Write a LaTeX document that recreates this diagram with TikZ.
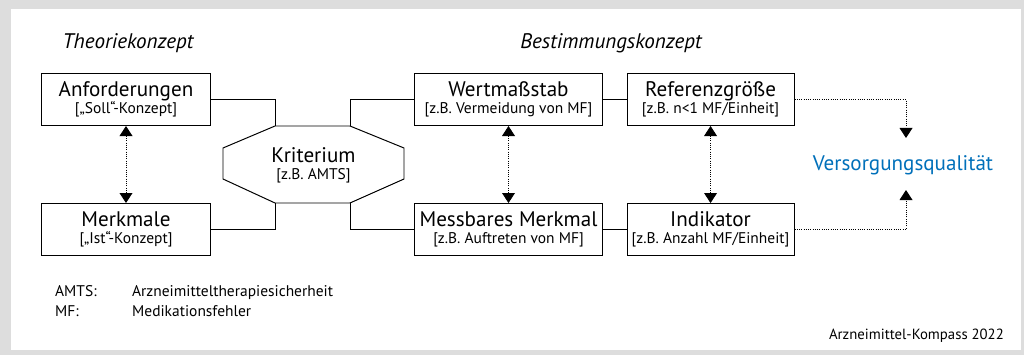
\documentclass[tikz,border=0pt]{standalone}
\usepackage{fontspec}
\setmainfont{PT Sans}
\usetikzlibrary{arrows.meta, positioning}

\definecolor{vqblue}{RGB}{0,112,186}
\definecolor{framegray}{RGB}{221,221,221}
\newcommand{\headtxt}{\fontsize{15}{13}\selectfont}
\newcommand{\subtxt}{\fontsize{11}{13}\selectfont}

\begin{document}
\begin{tikzpicture}[x=0.025cm, y=-0.025cm, line width=0.7pt,
    box/.style={draw, inner sep=0pt, minimum height=1.3cm, align=center},
    title/.style={font=\fontsize{15}{18}\selectfont\itshape},
    legend/.style={anchor=base west, font=\fontsize{11}{13}\selectfont},
    dots/.style={line width=0.6pt, densely dotted},
    tip/.style={-{Triangle[length=0.25cm, width=0.32cm]}},
    twoway/.style={dots, {Triangle[length=0.25cm, width=0.32cm]}-{Triangle[length=0.25cm, width=0.32cm]}}]

    % Frame
    \fill[framegray] (0,0) rectangle (1024,355);
    \fill[white] (11,9) rectangle (1021,350);

    %Nodes
    \node[title] (theo) at (128,43) {Theoriekonzept};
    \node[title] (best) at (611,43) {Bestimmungskonzept};

    \node[box, minimum width=4.2cm] (anf) at (126,99.5) {{\headtxt Anforderungen}\\{\subtxt [„Soll“-Konzept]}};
    \node[box, minimum width=4.2cm] (merk) [below=1.925cm of anf] {{\headtxt Merkmale}\\{\subtxt [„Ist“-Konzept]}};

    \node[box, minimum width=4.675cm] (wert) at (508.5,99.5) {{\headtxt Wertmaßstab}\\{\subtxt [z.B. Vermeidung von MF]}};
    \node[box, minimum width=4.175cm] (ref) [right=0.6cm of wert] {{\headtxt Referenzgröße}\\{\subtxt [z.B. n<1 MF/Einheit]}};
    \node[box, minimum width=4.675cm] (mess) [below=1.925cm of wert] {{\headtxt Messbares Merkmal}\\{\subtxt [z.B. Auftreten von MF]}};
    \node[box, minimum width=4.175cm] (ind) [right=0.6cm of mess] {{\headtxt Indikator}\\{\subtxt [z.B. Anzahl MF/Einheit]}};

    % Kriterium octagon
    \coordinate (k1) at (275,126);
    \coordinate (k2) at (350,126);
    \coordinate (k3) at (404,148);
    \coordinate (k4) at (404,179);
    \coordinate (k5) at (350,203);
    \coordinate (k6) at (275,203);
    \coordinate (k7) at (223,179);
    \coordinate (k8) at (223,148);
    \draw (k1) -- (k2) -- (k3) -- (k4) -- (k5) -- (k6) -- (k7) -- (k8) -- cycle;
    \node[align=center] (krit) at (313.5,165) {{\headtxt Kriterium}\\{\subtxt [z.B. AMTS]}};

    \node[anchor=base, text=vqblue, font=\fontsize{15}{18}\selectfont] (vq) at (903,170) {Versorgungsqualität};
    \coordinate (vqin) at (906,138);
    \coordinate (vqout) at (906,190);

    \node[legend] (amts) at (50,296) {AMTS:};
    \node[legend] (amtsx) at (127,296) {Arzneimitteltherapiesicherheit};
    \node[legend] (mf) at (50,316) {MF:};
    \node[legend] (mfx) at (127,316) {Medikationsfehler};
    \node[anchor=base east, font=\fontsize{10.5}{12}\selectfont] (src) at (1009,339) {Arzneimittel-Kompass 2022};

    % Edges
    \draw (anf.east) -| (k1);
    \draw (merk.east) -| (k6);
    \draw (wert.west) -| (k2);
    \draw (mess.west) -| (k5);
    \draw (wert) -- (ref);
    \draw (mess) -- (ind);
    \draw[twoway] (anf) -- (merk);
    \draw[twoway] (wert) -- (mess);
    \draw[twoway] (ref) -- (ind);
    \draw[dots, tip] (ref.east) -| (vqin);
    \draw[dots, tip] (ind.east) -| (vqout);

\end{tikzpicture}
\end{document}
